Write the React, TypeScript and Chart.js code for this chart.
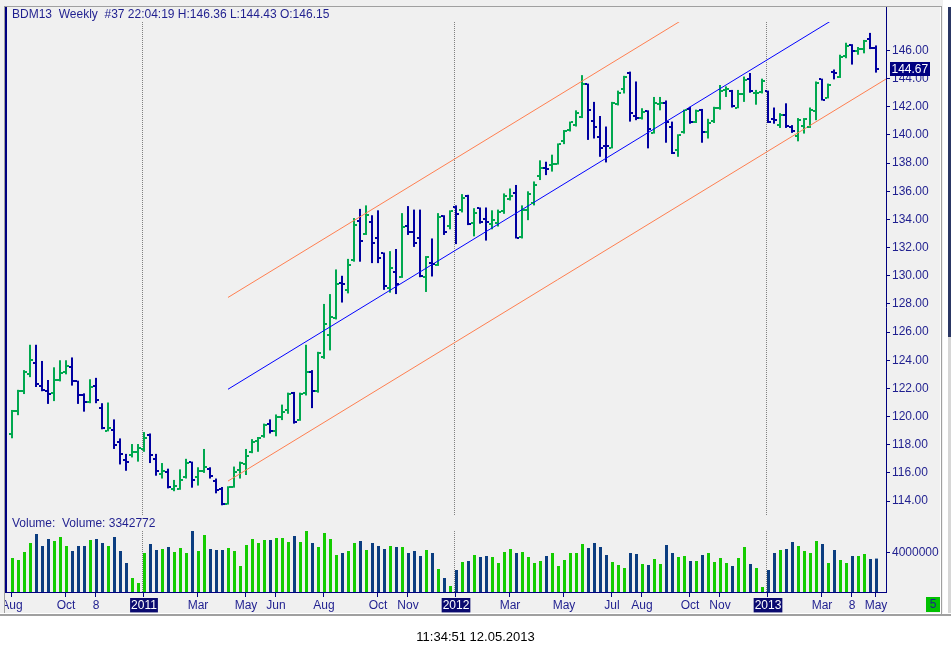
import React, { useEffect, useRef } from "react";
import { Chart, registerables } from "chart.js";

Chart.register(...registerables);

const FONT = "'Liberation Sans', Arial, Helvetica, sans-serif";
const NAVY = "#000080";
const TEXT = "#1f1f8f";
const UP = "#00a84f";
const DOWN = "#0000a0";
const VOL_UP = "#14cc00";
const VOL_DOWN = "#0b3d80";
const PANEL = "#f0f0f0";

// ---- weekly OHLC (index 0 = mid Aug 2010, index 144 = week of 10 May 2013) ----
const opens = [
  118.74, 120.4, 121.8, 123.0, 123.8, 122.2, 121.8, 121.7, 122.6, 123.2,
  123.5, 122.5, 121.5, 121.0, 122.2, 120.6, 119.0, 119.05, 118.2, 116.9,
  117.25, 117.5, 117.7, 118.7, 117.0, 115.9, 116.05, 114.85, 114.85, 115.7,
  116.75, 115.7, 116.1, 116.25, 115.4, 114.85, 113.8, 115.0, 116.2, 116.6,
  117.45, 118.3, 118.65, 119.45, 118.95, 120.0, 120.45, 121.7, 119.75, 121.65,
  123.15, 121.8, 124.2, 125.8, 127.0, 129.5, 129.0, 131.15, 133.9, 133.0,
  133.8, 132.7, 131.6, 129.1, 130.25, 129.9, 133.55, 133.1, 132.65, 129.9,
  130.9, 130.75, 134.25, 133.55, 134.9, 134.65, 135.7, 133.75, 134.8, 134.0,
  133.7, 133.75, 134.6, 135.45, 135.85, 132.75, 134.7, 135.15, 137.1, 137.65,
  137.85, 137.95, 139.6, 140.35, 140.7, 141.3, 143.6, 141.0, 139.85, 139.25,
  139.1, 142.2, 143.25, 144.4, 141.35, 141.2, 141.7, 140.15, 142.2, 142.3,
  140.6, 138.9, 140.2, 141.85, 140.95, 141.8, 140.2, 141.0, 141.95, 143.2,
  143.15, 141.95, 142.9, 144.0, 142.95, 143.05, 143.1, 141.15, 140.7, 141.45,
  140.55, 139.9, 140.65, 140.55, 141.7, 143.95, 142.65, 144.5, 144.1, 145.6,
  146.4, 145.95, 146.1, 146.8, 146.15,
];

const highs = [
  120.47, 121.9, 123.3, 125.1, 125.1, 123.95, 122.6, 123.5, 124.0, 124.0,
  124.2, 122.55, 121.65, 122.65, 122.75, 120.95, 121.0, 119.8, 118.45, 117.35,
  118.05, 118.05, 118.9, 118.8, 117.35, 116.7, 116.3, 115.5, 116.25, 117.0,
  116.8, 116.4, 117.7, 116.4, 115.6, 115.0, 115.05, 116.45, 116.8, 117.7,
  118.4, 118.55, 119.5, 119.8, 120.15, 120.85, 121.7, 121.75, 121.7, 125.1,
  123.3, 124.6, 128.0, 128.7, 130.45, 130.0, 131.2, 134.1, 134.75, 135.0,
  134.3, 134.65, 131.65, 131.75, 131.9, 134.45, 134.95, 134.7, 134.7, 131.4,
  132.65, 134.45, 134.3, 134.65, 135.0, 135.8, 135.75, 134.8, 134.85, 134.85,
  134.65, 134.7, 135.85, 136.2, 136.45, 135.0, 136.0, 136.7, 138.2, 138.1,
  138.6, 139.4, 140.35, 140.95, 141.75, 144.25, 143.65, 142.35, 141.35, 140.6,
  142.35, 143.15, 144.2, 144.5, 143.8, 141.9, 141.75, 142.7, 142.7, 142.45,
  140.95, 140.05, 141.8, 142.0, 141.8, 141.85, 141.15, 142.0, 143.55, 143.45,
  143.2, 143.2, 144.15, 144.4, 143.2, 144.0, 143.15, 141.95, 141.55, 142.25,
  140.7, 141.2, 141.2, 141.95, 143.8, 144.0, 143.65, 144.65, 145.7, 146.55,
  146.45, 146.25, 146.75, 147.25, 146.36,
];

const lows = [
  118.46, 120.1, 121.6, 122.8, 122.1, 121.8, 120.9, 121.1, 122.5, 123.0,
  122.2, 120.9, 120.35, 120.95, 120.95, 119.1, 118.95, 117.7, 116.6, 116.15,
  117.1, 116.8, 117.5, 116.7, 115.8, 115.6, 114.9, 114.7, 114.8, 115.6,
  114.95, 115.1, 116.0, 115.6, 114.55, 113.7, 113.75, 114.95, 115.6, 115.85,
  117.4, 117.5, 118.5, 118.8, 118.6, 119.75, 120.2, 119.5, 119.7, 121.5,
  120.6, 121.7, 124.1, 124.7, 126.9, 128.1, 128.75, 131.0, 131.0, 132.9,
  130.9, 130.9, 129.0, 128.8, 128.7, 129.85, 132.9, 132.05, 129.9, 128.85,
  129.95, 130.7, 132.9, 133.3, 132.25, 134.5, 133.6, 132.8, 133.7, 132.5,
  133.3, 133.5, 134.4, 135.35, 132.65, 132.65, 133.95, 135.0, 136.8, 137.15,
  137.4, 137.9, 139.35, 140.25, 140.6, 141.2, 139.65, 139.75, 138.45, 138.05,
  139.05, 142.1, 142.95, 140.95, 141.05, 141.1, 139.05, 140.1, 141.75, 139.45,
  138.65, 138.45, 140.1, 140.8, 140.85, 139.45, 139.75, 140.85, 141.8, 142.7,
  141.95, 141.9, 142.35, 143.0, 142.15, 142.95, 140.85, 140.8, 140.5, 140.5,
  140.15, 139.55, 140.1, 140.5, 141.05, 142.45, 142.6, 143.95, 144.05, 145.45,
  145.0, 145.7, 145.8, 146.1, 144.43,
];

const closes = [
  120.4, 121.8, 123.2, 124.0, 122.3, 121.9, 121.6, 122.6, 123.1, 123.6,
  122.5, 121.5, 121.0, 122.1, 121.2, 119.2, 119.2, 118.0, 117.35, 116.75,
  117.5, 117.8, 118.5, 117.25, 116.1, 116.1, 115.0, 115.1, 115.5, 116.7,
  115.5, 116.1, 116.4, 115.75, 114.8, 113.8, 115.0, 116.05, 116.7, 117.2,
  118.2, 118.5, 119.4, 118.95, 120.0, 120.3, 121.6, 119.6, 121.6, 123.15,
  121.85, 124.5, 126.55, 127.1, 129.45, 129.4, 130.8, 133.6, 132.5, 134.3,
  132.3, 131.25, 129.25, 130.55, 129.45, 133.45, 133.1, 132.3, 129.95, 131.3,
  130.85, 134.15, 133.1, 134.6, 134.4, 135.5, 133.7, 134.45, 133.8, 133.8,
  133.95, 134.55, 135.65, 135.7, 132.7, 134.7, 135.8, 136.45, 137.65, 137.6,
  137.95, 139.35, 140.25, 140.9, 141.55, 143.6, 141.8, 140.55, 139.1, 139.2,
  142.25, 142.95, 144.1, 141.55, 141.2, 141.65, 140.4, 142.25, 142.3, 140.95,
  138.7, 140.0, 141.75, 140.9, 141.7, 140.2, 140.85, 141.9, 143.15, 143.3,
  142.05, 142.9, 143.9, 143.1, 143.0, 143.85, 140.9, 141.05, 141.4, 140.65,
  140.25, 141.05, 141.15, 141.75, 143.7, 142.5, 143.55, 144.4, 145.55, 146.3,
  145.95, 146.1, 146.7, 146.2, 144.67,
];

const volumes = [
  3400000, 3200000, 4000000, 4900000, 5800000, 4600000, 5300000, 5100000, 5500000, 4600000,
  4100000, 4600000, 4600000, 5200000, 5300000, 4900000, 4600000, 5500000, 4100000, 2900000,
  1400000, 900000, 3900000, 4800000, 4200000, 4300000, 4500000, 4000000, 4400000, 3900000,
  6100000, 4100000, 5700000, 4300000, 4200000, 4200000, 4400000, 4100000, 2600000, 4700000,
  5300000, 4900000, 5200000, 5200000, 5400000, 5400000, 5000000, 5600000, 5000000, 6100000,
  4900000, 4500000, 5900000, 5300000, 3700000, 3900000, 4100000, 4900000, 5100000, 4200000,
  4900000, 4600000, 4300000, 4600000, 4500000, 4500000, 3900000, 4100000, 3600000, 4200000,
  3900000, 2300000, 1400000, 600000, 2200000, 3000000, 3100000, 3700000, 3500000, 3600000,
  3500000, 2900000, 4000000, 4300000, 3900000, 4000000, 3500000, 2900000, 3100000, 3600000,
  3900000, 2600000, 3200000, 3900000, 3900000, 4800000, 4400000, 4900000, 4500000, 3700000,
  3000000, 2700000, 2400000, 3900000, 3800000, 2800000, 2700000, 3300000, 2800000, 4700000,
  3900000, 3500000, 3600000, 3100000, 3100000, 3700000, 3900000, 3000000, 3400000, 2900000,
  2600000, 3400000, 4500000, 2800000, 2400000, 500000, 2200000, 3900000, 4200000, 4300000,
  5000000, 4600000, 4100000, 3900000, 5100000, 4800000, 2900000, 4200000, 3200000, 2900000,
  3600000, 3600000, 3800000, 3300000, 3342772,
];

// ---- axis labels ----
const axisLabelIndex = [0, 9, 14, 22, 31, 39, 44, 52, 61, 66, 74, 83, 92, 100, 105, 113, 118, 126, 135, 140, 144];
const axisLabelText = ["Aug", "Oct", "8", "2011", "Mar", "May", "Jun", "Aug", "Oct", "Nov", "2012", "Mar", "May", "Jul", "Aug", "Oct", "Nov", "2013", "Mar", "8", "May"];
const yearIndex = [22, 74, 126];
const priceTicks = [114, 116, 118, 120, 122, 124, 126, 128, 130, 132, 134, 136, 138, 140, 142, 144, 146];
const volumeTicks = [4000000];

// ---- regression channel (start / end points) ----
const channelX = [36, 146];
const channelMid = [121.94, 150.58];
const channelUpper = [128.46, 157.1];
const channelLower = [115.42, 144.06];

// ---- texts ----
const headerText = "BDM13  Weekly  #37 22:04:19 H:146.36 L:144.43 O:146.15";
const volumeText = "Volume:  Volume: 3342772";
const lastPrice = 144.67;
const timeStamp = "11:34:51 12.05.2013";

// ---- scale ranges ----
const xMin = -0.8333;
const xMax = 145.667;
const xVolMin = -0.9167;
const xVolMax = 145.583;
const priceMin = 107.541;
const priceMax = 148.024;
const pricePanelBottom = 112.94;
const volMax = 57000000;
const volPanelTop = 6100000;

const W = 951;
const H = 656;

export default function App() {
  const ref = useRef<HTMLCanvasElement | null>(null);

  useEffect(() => {
    const canvas = ref.current;
    if (!canvas) return;

    const isUp = (i: number) => closes[i] >= opens[i];
    const labelFor = (v: number) => {
      const k = axisLabelIndex.indexOf(Math.round(v));
      return k >= 0 ? axisLabelText[k] : "";
    };
    const isYear = (v: number) => yearIndex.includes(Math.round(v));
    const font = (s: number) => `${s}px ${FONT}`;

    const decor = {
      id: "decor",
      beforeDraw(chart: any) {
        const { ctx } = chart;
        ctx.save();
        ctx.fillStyle = "#ffffff";
        ctx.fillRect(0, 0, W, H);
        ctx.fillStyle = PANEL;
        ctx.fillRect(0, 0, 943, 613);
        ctx.fillStyle = "#ffffff";
        ctx.fillRect(0, 613, W, 1);
        ctx.fillStyle = "#a0a0a0";
        ctx.fillRect(0, 614, W, 2);
        ctx.fillRect(4, 6, 938, 1);
        ctx.fillRect(941, 6, 1, 608);
        ctx.fillStyle = "#ffffff";
        ctx.fillRect(940, 7, 1, 606);
        ctx.fillStyle = "#2b3764";
        ctx.fillRect(948, 7, 3, 330);
        ctx.fillStyle = "#d6d6d6";
        ctx.fillRect(948, 337, 3, 276);
        ctx.restore();
      },
      beforeDatasetsDraw(chart: any) {
        const { ctx, chartArea } = chart;
        const xs = chart.scales.x;
        const ys = chart.scales.y;
        const yv = chart.scales.yv;
        ctx.save();
        ctx.strokeStyle = "#808080";
        ctx.lineWidth = 1;
        ctx.setLineDash([1, 1]);
        const pBottom = ys.getPixelForValue(pricePanelBottom);
        const vTop = yv.getPixelForValue(volPanelTop);
        yearIndex.forEach((idx) => {
          const px = Math.floor(xs.getPixelForValue(idx - 0.22)) + 0.5;
          ctx.beginPath();
          ctx.moveTo(px, chartArea.top);
          ctx.lineTo(px, pBottom);
          ctx.moveTo(px, vTop);
          ctx.lineTo(px, chartArea.bottom);
          ctx.stroke();
        });
        ctx.restore();
      },
      afterDatasetsDraw(chart: any) {
        const { ctx } = chart;
        const xs = chart.scales.x;
        const ys = chart.scales.y;
        ctx.save();
        for (let i = 0; i < opens.length; i++) {
          const px = Math.round(xs.getPixelForValue(i));
          const yo = Math.round(ys.getPixelForValue(opens[i]));
          const yc = Math.round(ys.getPixelForValue(closes[i]));
          ctx.fillStyle = isUp(i) ? UP : DOWN;
          ctx.fillRect(px - 3, yo - 1, 2, 2);
          ctx.fillRect(px + 1, yc - 1, 2, 2);
        }
        ctx.restore();
      },
      afterDraw(chart: any) {
        const { ctx, chartArea } = chart;
        const ys = chart.scales.y;
        const yv = chart.scales.yv;
        ctx.save();
        ctx.fillStyle = PANEL;
        ctx.fillRect(0, 7, 4, 606);
        ctx.fillStyle = "#a0a0a0";
        ctx.fillRect(4, 6, 1, 607);
        ctx.fillStyle = NAVY;
        ctx.fillRect(5, 7, 2, chartArea.bottom - 7 + 1);
        ctx.fillRect(Math.floor(chartArea.right), 7, 1, chartArea.top - 7);

        ctx.textBaseline = "middle";
        ctx.textAlign = "left";
        ctx.font = font(12);
        ctx.fillStyle = TEXT;
        ctx.fillText(headerText, 12, 15);
        ctx.fillText(volumeText, 12, 524);

        volumeTicks.forEach((v) => {
          const py = Math.round(yv.getPixelForValue(v));
          ctx.fillStyle = NAVY;
          ctx.fillRect(Math.floor(chartArea.right), py, 4, 1);
          ctx.fillStyle = TEXT;
          ctx.fillText(String(v), Math.floor(chartArea.right) + 6, py + 0.5);
        });

        const ly = ys.getPixelForValue(lastPrice);
        ctx.fillStyle = NAVY;
        ctx.fillRect(890, Math.round(ly) - 7, 40, 14);
        ctx.fillStyle = "#ffffff";
        ctx.fillText(lastPrice.toFixed(2), 891.5, Math.round(ly) + 0.5);

        ctx.fillStyle = "#00c000";
        ctx.fillRect(926, 597, 14, 15);
        ctx.fillStyle = TEXT;
        ctx.textAlign = "center";
        ctx.fillText("5", 933, 605);

        ctx.fillStyle = "#000000";
        ctx.font = font(13);
        ctx.fillText(timeStamp, 475.5, 637);
        ctx.restore();
      },
    };

    const hlData = highs.map((h, i) => ({ x: i, y: [lows[i], h] }));
    const volData = volumes.map((v, i) => ({ x: i, y: v }));
    const line = (ys: number[]) => channelX.map((x, k) => ({ x, y: ys[k] }));
    const lineDs = (ys: number[], color: string) =>
      ({
        type: "line",
        data: line(ys),
        borderColor: color,
        borderWidth: 1,
        pointRadius: 0,
        fill: false,
        xAxisID: "x",
        yAxisID: "y",
        order: 0,
      } as any);

    const chart = new Chart(canvas, {
      type: "bar",
      data: {
        datasets: [
          lineDs(channelUpper, "#ff7f50"),
          lineDs(channelMid, "#0000ff"),
          lineDs(channelLower, "#ff7f50"),
          {
            type: "bar",
            data: hlData as any,
            backgroundColor: opens.map((_, i) => (isUp(i) ? UP : DOWN)),
            barThickness: 2,
            grouped: false,
            inflateAmount: 0,
            borderWidth: 0,
            xAxisID: "x",
            yAxisID: "y",
            order: 1,
          } as any,
          {
            type: "bar",
            data: volData as any,
            backgroundColor: opens.map((_, i) => (isUp(i) ? VOL_UP : VOL_DOWN)),
            barThickness: 3,
            grouped: false,
            inflateAmount: 0,
            borderWidth: 0,
            xAxisID: "xv",
            yAxisID: "yv",
            order: 2,
          } as any,
        ],
      },
      options: {
        animation: false,
        responsive: false,
        events: [],
        layout: { padding: { left: 7, top: 22, right: 0, bottom: 0 } },
        plugins: {
          legend: { display: false },
          tooltip: { enabled: false },
          title: { display: false },
        },
        scales: {
          x: {
            type: "linear",
            position: "bottom",
            min: xMin,
            max: xMax,
            offset: false,
            grid: {
              display: true,
              drawOnChartArea: false,
              drawTicks: true,
              tickLength: 5,
              color: NAVY,
              offset: false,
            },
            border: { display: true, color: NAVY, width: 1 },
            ticks: {
              autoSkip: false,
              maxRotation: 0,
              minRotation: 0,
              padding: 1,
              font: { family: FONT, size: 12 },
              color: (c: any) => (isYear(c.tick.value) ? "#ffffff" : TEXT),
              showLabelBackdrop: true,
              backdropColor: (c: any) => (isYear(c.tick.value) ? "#0a0a70" : "rgba(0,0,0,0)"),
              backdropPadding: { left: 1, right: 1, top: 0, bottom: 0 },
              callback: (v: any) => labelFor(Number(v)),
            },
            afterBuildTicks: (s: any) => {
              s.ticks = axisLabelIndex.map((v) => ({ value: v }));
            },
            afterFit: (s: any) => {
              s.height = 64;
              s.paddingLeft = 0;
              s.paddingRight = 0;
            },
          } as any,
          xv: {
            type: "linear",
            display: false,
            min: xVolMin,
            max: xVolMax,
            offset: false,
          } as any,
          y: {
            type: "linear",
            position: "right",
            min: priceMin,
            max: priceMax,
            grid: {
              display: true,
              drawOnChartArea: false,
              drawTicks: true,
              tickLength: 4,
              color: NAVY,
            },
            border: { display: true, color: NAVY, width: 1 },
            ticks: {
              padding: 2,
              color: TEXT,
              font: { family: FONT, size: 12 },
              callback: (v: any) => Number(v).toFixed(2),
            },
            afterBuildTicks: (s: any) => {
              s.ticks = priceTicks.map((v) => ({ value: v }));
            },
            afterFit: (s: any) => {
              s.width = 65;
              s.paddingTop = 0;
              s.paddingBottom = 0;
            },
          } as any,
          yv: {
            type: "linear",
            display: false,
            min: 0,
            max: volMax,
          } as any,
        },
      } as any,
      plugins: [decor as any],
    });

    return () => chart.destroy();
  }, []);

  return (
    <div style={{ position: "absolute", left: 0, top: 0, width: W, height: H, background: "#ffffff" }}>
      <canvas ref={ref} width={W} height={H} style={{ display: "block", width: W, height: H }} />
    </div>
  );
}
